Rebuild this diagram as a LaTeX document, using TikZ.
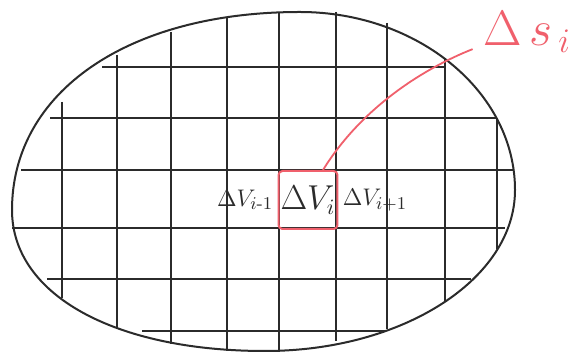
\documentclass[tikz,border=0pt]{standalone}
\usepackage{amsmath}
\usetikzlibrary{positioning}
\definecolor{inkgray}{HTML}{2B2B2B}
\definecolor{penred}{HTML}{F0606C}

\begin{document}
\begin{tikzpicture}[x=0.5pt, y=-0.5pt,
  gridline/.style={inkgray, line width=0.9pt},
  lbl/.style={text=inkgray, font=\fontsize{13}{15}\selectfont, inner sep=1pt}]

\useasboundingbox (0,0) rectangle (583,356);
\fill[white] (0,0) rectangle (583,356);

% Outline of the region
\draw[inkgray, line width=1pt] (300,12)
  .. controls (418,12) and (515,92) .. (515,190)
  .. controls (515,279) and (403,351) .. (265,351)
  .. controls (115,351) and (12,295) .. (12,210)
  .. controls (12,92) and (128,12) .. cycle;

% Vertical grid lines
\foreach \x/\ya/\yb in {62/102/298, 117/55/329, 171/32/344, 227/18/351,
  279/12/352, 336/12/341, 387/23/329, 445/58/302, 497/118/249}
  \draw[gridline] (\x,\ya) -- (\x,\yb);

% Horizontal grid lines
\foreach \y/\xa/\xb in {67/102/444, 118/50/497, 170/21/513, 228/12/505,
  279/47/471, 331/142/386}
  \draw[gridline] (\xa,\y) -- (\xb,\y);

% Volume elements
\node[lbl, draw=penred, line width=1pt, rounded corners=2pt,
  minimum width=29pt, minimum height=29pt, font=\fontsize{16}{18}\selectfont]
  (cell) at (308,200) {$\Delta V_{i}$};
\node[lbl, left=1pt of cell] (prev) {$\Delta V_{i\text{-}1}$};
\node[lbl, right=1pt of cell] (next) {$\Delta V_{i+1}$};

% Surface label
\node[text=penred, font=\fontsize{24}{26}\selectfont, inner sep=1pt]
  (ds) at (527,32) {$\Delta\,s_{\,i}$};
\draw[penred, line width=0.9pt] ([xshift=7.5pt]cell.north)
  .. controls (360,110) and (420,70) .. ([xshift=-4pt,yshift=3pt]ds.south west);

\end{tikzpicture}
\end{document}
